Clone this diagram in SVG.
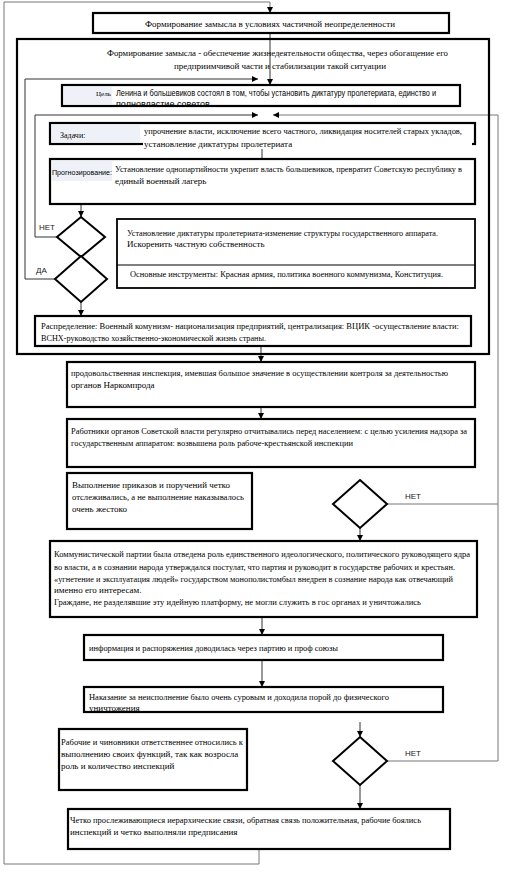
<svg xmlns="http://www.w3.org/2000/svg" width="530" height="889" viewBox="0 0 530 889">
<style>
.bx{fill:#fff;stroke:#000;stroke-width:2.2}
.bm{fill:#fff;stroke:#000;stroke-width:1.8}
.dm{fill:#fff;stroke:#000;stroke-width:2}
.ln{fill:none;stroke:#333;stroke-width:1}
.lg{fill:none;stroke:#777;stroke-width:1}
.t{font-family:"Liberation Serif","Times New Roman",serif;font-size:9px;fill:#000}
.s{font-family:"Liberation Sans",Arial,sans-serif;font-size:9px;fill:#000}
.sl{font-family:"Liberation Sans",Arial,sans-serif;font-size:8px;fill:#222}
</style>
<defs>
<marker id="ah" viewBox="0 0 10 10" refX="10" refY="5" markerWidth="6" markerHeight="6" orient="auto" markerUnits="userSpaceOnUse"><path d="M0,0 L10,5 L0,10 z" fill="#000"/></marker>
</defs>
<rect width="530" height="889" fill="#fff"/>
<g id="connectors">
<path class="lg" d="M259,849 V864 H4 V2 H270 V13" marker-end="url(#ah)"/>
<path class="ln" d="M270,33 V85" marker-end="url(#ah)"/>
<path class="ln" d="M55,279 H25 V79 H258" marker-end="url(#ah)"/>
<path class="ln" d="M57,237 H35 V115 H258" marker-end="url(#ah)"/>
<path class="lg" d="M387,504 H498"/>
<path class="lg" d="M387,761 H498 V115 H273" marker-end="url(#ah)"/>
<path class="ln" d="M262,144 V159"/>
<path class="ln" d="M81,204 V217" marker-end="url(#ah)"/>
<path class="ln" d="M81,302 V316" marker-end="url(#ah)"/>
<path class="ln" d="M261,346 V362" marker-end="url(#ah)"/>
<path class="ln" d="M261,407 V419" marker-end="url(#ah)"/>
<path class="ln" d="M360,528 V541" marker-end="url(#ah)"/>
<path class="ln" d="M262,617 V635" marker-end="url(#ah)"/>
<path class="ln" d="M262,660 V687" marker-end="url(#ah)"/>
<path class="ln" d="M360,722 V737" marker-end="url(#ah)"/>
<path class="ln" d="M360,785 V809" marker-end="url(#ah)"/>
<text class="sl" x="39" y="230">НЕТ</text>
<text class="sl" x="36" y="273">ДА</text>
<text class="sl" x="405" y="499">НЕТ</text>
<text class="sl" x="405" y="756">НЕТ</text>
</g>
<g id="n-top">
<rect class="bx" x="93" y="13" width="356" height="20"/>
<text class="t" x="270" y="27" text-anchor="middle" textLength="250" lengthAdjust="spacingAndGlyphs">Формирование замысла в условиях частичной неопределенности</text>
</g>
<g id="n-frame">
<rect class="bx" x="17" y="39" width="472" height="315" style="fill:none"/>
<text class="t" x="107" y="56" textLength="341" lengthAdjust="spacingAndGlyphs">Формирование замысла - обеспечение жизнедеятельности общества, через обогащение его</text>
<text class="t" x="174" y="69" textLength="212" lengthAdjust="spacingAndGlyphs">предприимчивой части и стабилизации такой ситуации</text>
</g>
<g id="n-goal">
<rect class="bx" x="62" y="85" width="398" height="21"/>
<rect x="64" y="87" width="48" height="17" fill="#eef2f8"/>
<text class="t" x="96" y="96" style="font-size:7px">Цель</text>
<text class="s" x="116" y="96" textLength="320" lengthAdjust="spacingAndGlyphs">Ленина и большевиков состоял в том, чтобы установить диктатуру пролетериата, единство и</text>
<text class="s" x="116" y="107">полновластие советов</text>
</g>
<g id="n-tasks">
<rect class="bx" x="50" y="123" width="425" height="21"/>
<rect x="52" y="125" width="88" height="17" fill="#eef2f8"/>
<rect x="143" y="139" width="329" height="10" fill="#fff"/>
<text class="t" x="60" y="138" style="font-size:8px">Задачи:</text>
<text class="t" x="144" y="134" textLength="318" lengthAdjust="spacingAndGlyphs">упрочнение власти, исключение всего частного, ликвидация носителей старых укладов,</text>
<text class="t" x="144" y="147">установление диктатуры пролетериата</text>
</g>
<g id="n-forecast">
<rect class="bx" x="50" y="159" width="425" height="45"/>
<rect x="52" y="161" width="60" height="20" fill="#eef2f8"/>
<text class="s" x="52" y="175" style="font-size:7px" textLength="60" lengthAdjust="spacingAndGlyphs">Прогнозирование:</text>
<text class="t" x="115" y="172" textLength="347" lengthAdjust="spacingAndGlyphs">Установление однопартийности укрепит власть большевиков, превратит Советскую республику в</text>
<text class="t" x="115" y="184">единый военный лагерь</text>
</g>
<g id="n-d1">
<polygon class="dm" points="81,217 105,237 81,257 57,237"/>
</g>
<g id="n-d2">
<polygon class="dm" points="81,256 107,279 81,302 55,279"/>
</g>
<g id="n-dictatorship">
<rect class="bm" x="117" y="219" width="358" height="69"/>
<line x1="117" y1="265" x2="475" y2="265" stroke="#000" stroke-width="1.2"/>
<text class="t" x="127" y="236" textLength="311" lengthAdjust="spacingAndGlyphs">Установление диктатуры пролетериата-изменение структуры государственного аппарата.</text>
<text class="t" x="127" y="247">Искоренить частную собственность</text>
<text class="t" x="130" y="277" textLength="313" lengthAdjust="spacingAndGlyphs">Основные инструменты: Красная армия, политика военного коммунизма, Конституция.</text>
</g>
<g id="n-distribution">
<rect class="bx" x="35" y="316" width="436" height="30"/>
<text class="t" x="41" y="329" textLength="418" lengthAdjust="spacingAndGlyphs">Распределение: Военный комунизм- национализация предприятий, централизация: ВЦИК -осуществление власти:</text>
<text class="t" x="41" y="341" textLength="225" lengthAdjust="spacingAndGlyphs">ВСНХ-руководство хозяйственно-экономической жизнь страны.</text>
</g>
<g id="n-food">
<rect class="bx" x="67" y="362" width="408" height="45"/>
<text class="t" x="71" y="376" textLength="377" lengthAdjust="spacingAndGlyphs">продовольственная инспекция, имевшая большое значение в осуществлении контроля за деятельностью</text>
<text class="t" x="71" y="388">органов Наркомпрода</text>
</g>
<g id="n-workers-report">
<rect class="bx" x="67" y="419" width="408" height="48"/>
<text class="t" x="71" y="434" textLength="396" lengthAdjust="spacingAndGlyphs">Работники органов Советской власти регулярно отчитывались перед населением: с целью усиления надзора за</text>
<text class="t" x="71" y="446" textLength="282" lengthAdjust="spacingAndGlyphs">государственным аппаратом: возвышена роль рабоче-крестьянской инспекции</text>
</g>
<g id="n-orders">
<rect class="bx" x="67" y="473" width="185" height="56"/>
<text class="t" x="72" y="488" textLength="158" lengthAdjust="spacingAndGlyphs">Выполнение приказов и поручений четко</text>
<text class="t" x="72" y="500" textLength="172" lengthAdjust="spacingAndGlyphs">отслеживались, а не выполнение наказывалось</text>
<text class="t" x="72" y="512">очень жестоко</text>
</g>
<g id="n-d3">
<polygon class="dm" points="360,480 387,504 360,528 333,504"/>
</g>
<g id="n-party">
<rect class="bx" x="50" y="541" width="427" height="76"/>
<text class="t" x="54" y="557" textLength="416" lengthAdjust="spacingAndGlyphs">Коммунистической партии была отведена роль единственного идеологического, политического руководящего ядра</text>
<text class="t" x="54" y="570" textLength="401" lengthAdjust="spacingAndGlyphs">во власти, а в сознании народа утверждался постулат, что партия и руководит в государстве рабочих и крестьян.</text>
<text class="t" x="54" y="582" textLength="399" lengthAdjust="spacingAndGlyphs">«угнетение и эксплуатация людей» государством монополистомбыл  внедрен в сознание народа как отвечающий</text>
<text class="t" x="54" y="593">именно его интересам.</text>
<text class="t" x="54" y="605" textLength="367" lengthAdjust="spacingAndGlyphs">Граждане, не разделявшие эту идейную платформу, не могли служить в гос органах и уничтожались</text>
</g>
<g id="n-info">
<rect class="bx" x="84" y="635" width="359" height="25"/>
<text class="t" x="89" y="651" textLength="249" lengthAdjust="spacingAndGlyphs">информация и распоряжения доводилась через партию и проф союзы</text>
</g>
<g id="n-punish">
<rect class="bx" x="84" y="687" width="359" height="25"/>
<text class="t" x="89" y="700" textLength="300" lengthAdjust="spacingAndGlyphs">Наказание за неисполнение было очень суровым и доходила порой до физического</text>
<text class="t" x="89" y="711">уничтожения</text>
</g>
<g id="n-responsible">
<rect class="bx" x="59" y="729" width="188" height="61"/>
<text class="t" x="61" y="745" textLength="182" lengthAdjust="spacingAndGlyphs">Рабочие и чиновники ответственнее относились к</text>
<text class="t" x="61" y="757">выполнению своих функций, так как возросла</text>
<text class="t" x="61" y="769">роль и количество инспекций</text>
</g>
<g id="n-d4">
<polygon class="dm" points="360,737 387,761 360,785 333,761"/>
</g>
<g id="n-hierarchy">
<rect class="bx" x="68" y="809" width="382" height="40"/>
<text class="t" x="70" y="823" textLength="351" lengthAdjust="spacingAndGlyphs">Четко прослеживающиеся иерархические связи, обратная связь положительная, рабочие боялись</text>
<text class="t" x="70" y="835">инспекций и четко выполняли предписания</text>
</g>
</svg>
